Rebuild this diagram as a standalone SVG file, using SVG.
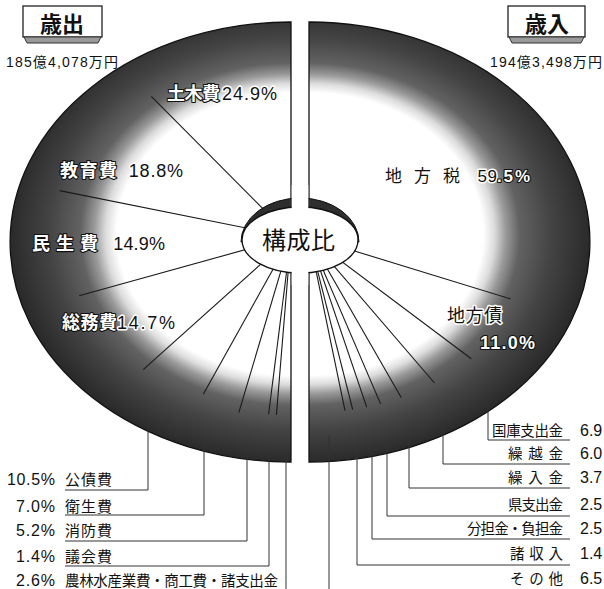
<svg xmlns="http://www.w3.org/2000/svg" width="604" height="589" viewBox="0 0 604 589">
<defs>
<radialGradient id="gL" gradientUnits="userSpaceOnUse" cx="0" cy="0" r="1" gradientTransform="translate(291 234) scale(281 228)">
<stop offset="0" stop-color="#fff"/><stop offset="0.62" stop-color="#fff"/><stop offset="0.66" stop-color="#dcdcdc"/><stop offset="0.70" stop-color="#9a9a9a"/><stop offset="0.75" stop-color="#626262"/><stop offset="0.86" stop-color="#444"/><stop offset="1" stop-color="#2a2a2a"/>
</radialGradient>
<radialGradient id="gR" gradientUnits="userSpaceOnUse" cx="0" cy="0" r="1" gradientTransform="translate(309 234) scale(281 228)">
<stop offset="0" stop-color="#fff"/><stop offset="0.62" stop-color="#fff"/><stop offset="0.66" stop-color="#dcdcdc"/><stop offset="0.70" stop-color="#9a9a9a"/><stop offset="0.75" stop-color="#626262"/><stop offset="0.86" stop-color="#444"/><stop offset="1" stop-color="#2a2a2a"/>
</radialGradient>
</defs>
<style>
.t{font-family:'Liberation Sans','Noto Sans CJK JP',sans-serif;fill:#111}
.j{font-family:'Noto Sans CJK JP',sans-serif;fill:#111}
.halo{paint-order:stroke;stroke:#fff;stroke-width:3;stroke-linejoin:round}
.out{fill:#fff;font-weight:700;paint-order:stroke;stroke:#111;stroke-width:2.2;stroke-linejoin:round}
.div{stroke:#1a1a1a;stroke-width:1.1;fill:none}
.lead{stroke:#333;stroke-width:1;fill:none}
.half{stroke:#111;stroke-width:1.3}
.box{fill:#fff;stroke:#222;stroke-width:1.3}
.base{fill:#9a9a9a;stroke:#333;stroke-width:1}
</style>
<rect width="604" height="589" fill="#fff"/>

<g id="half-expenditure">
<path class="half" d="M291,22 A281,220 0 0 0 291,462 Z" fill="url(#gL)"/>
</g>
<g id="half-revenue">
<path class="half" d="M309,22 A281,220 0 0 1 309,462 Z" fill="url(#gR)"/>
</g>

<g id="connectors">
<g class="div">
<line x1="291" y1="237" x2="151.3" y2="96.3"/>
<line x1="291" y1="237" x2="59.6" y2="190.6"/>
<line x1="291" y1="237" x2="79.1" y2="295.7"/>
<line x1="291" y1="237" x2="143.2" y2="369.6"/>
<line x1="291" y1="237" x2="203.3" y2="394.3"/>
<line x1="291" y1="237" x2="238.8" y2="412.7"/>
<line x1="291" y1="237" x2="268.6" y2="414.3"/>
<line x1="291" y1="237" x2="276.4" y2="414.9"/>
<line x1="309" y1="237" x2="510.4" y2="298.9"/>
<line x1="309" y1="237" x2="471.3" y2="358.8"/>
<line x1="309" y1="237" x2="434.5" y2="383.0"/>
<line x1="309" y1="237" x2="401.2" y2="397.5"/>
<line x1="309" y1="237" x2="380.6" y2="403.9"/>
<line x1="309" y1="237" x2="366.7" y2="407.1"/>
<line x1="309" y1="237" x2="352.7" y2="409.6"/>
<line x1="309" y1="237" x2="345.0" y2="410.7"/>
</g>
<g class="lead">
<polyline points="148,419 148,490 65,490"/>
<polyline points="204,440 204,515 65,515"/>
<polyline points="247,445 247,541 65,541"/>
<polyline points="269,447 269,566 65,566"/>
<polyline points="286,447 286,589"/>
<polyline points="488,404 488,440 570,440"/>
<polyline points="443,425 443,464 570,464"/>
<polyline points="409,436 409,488 570,488"/>
<polyline points="387,440 387,516 570,516"/>
<polyline points="372,447 372,539 570,539"/>
<polyline points="357,446 357,565 570,565"/>
<polyline points="329,435 329,589"/>
</g>
</g>

<g id="center">
<path d="M241,242 A59,44 0 0 1 359,242 Z" fill="#2e2e2e" stroke="#111" stroke-width="1"/>
<ellipse cx="300" cy="240" rx="58" ry="33" fill="#fff" stroke="#111" stroke-width="1.3"/>
<rect x="291.7" y="185" width="16.6" height="100" fill="#fff"/>
<text class="j" x="262" y="249" font-size="24" textLength="73">構成比</text>
</g>

<g id="title-expenditure">
<rect class="box" x="23" y="6" width="79" height="31"/>
<polygon class="base" points="24,37 101,37 98,43 27,43"/>
<text class="j" x="40" y="32" font-size="22" font-weight="700" textLength="44">歳出</text>
<text class="t" x="6" y="67" font-size="14" textLength="112">185億4,078万円</text>
</g>
<g id="title-revenue">
<rect class="box" x="508" y="6" width="77" height="31"/>
<polygon class="base" points="509,37 584,37 581,43 512,43"/>
<text class="j" x="525" y="32" font-size="22" font-weight="700" textLength="44">歳入</text>
<text class="t" x="490" y="67" font-size="14" textLength="112">194億3,498万円</text>
</g>

<g id="label-doboku"><text class="t" y="99.5" font-size="18"><tspan class="out" x="167" textLength="53">土木費</tspan><tspan class="halo" x="222" textLength="55">24.9%</tspan></text></g>
<g id="label-kyouiku"><text class="t" y="177" font-size="18"><tspan class="out" x="60" textLength="57">教育費</tspan><tspan class="halo" x="123" textLength="60"> 18.8%</tspan></text></g>
<g id="label-minsei"><text class="t" y="250" font-size="18"><tspan class="out" x="32" textLength="66">民 生 費</tspan><tspan class="halo" x="108" textLength="57"> 14.9%</tspan></text></g>
<g id="label-soumu"><text class="t" y="329" font-size="18"><tspan class="out" x="62" textLength="55">総務費</tspan><tspan class="halo" x="117" textLength="58">14.7%</tspan></text></g>

<g id="label-chihouzei"><text class="t" y="181.5" font-size="17"><tspan class="halo" x="385" textLength="75">地 方 税</tspan><tspan class="halo" x="472" textLength="25"> 59</tspan><tspan class="out" x="497" textLength="33">.5%</tspan></text></g>
<g id="label-chihousai">
<text class="t halo" x="447" y="322" font-size="18" textLength="55">地方債</text>
<text class="t out" x="480" y="349" font-size="18" textLength="55">11.0%</text>
</g>

<g id="label-kousai"><text class="t" x="7" y="484.5" font-size="16" textLength="48">10.5%</text><text class="t" x="65" y="484.5" font-size="15" textLength="47">公債費</text></g>
<g id="label-eisei"><text class="t" x="16" y="511.5" font-size="16" textLength="39">7.0%</text><text class="t" x="65" y="511.5" font-size="15" textLength="47">衛生費</text></g>
<g id="label-shoubou"><text class="t" x="16" y="535.5" font-size="16" textLength="39">5.2%</text><text class="t" x="65" y="535.5" font-size="15" textLength="47">消防費</text></g>
<g id="label-gikai"><text class="t" x="16" y="561.5" font-size="16" textLength="39">1.4%</text><text class="t" x="65" y="561.5" font-size="15" textLength="47">議会費</text></g>
<g id="label-nourin"><text class="t" x="16" y="585.5" font-size="16" textLength="39">2.6%</text><text class="t" x="65" y="585.5" font-size="14.5" textLength="213">農林水産業費・商工費・諸支出金</text></g>

<g id="label-kokko"><text class="t" x="492" y="435.5" font-size="14.5" textLength="71">国庫支出金</text><text class="t" x="580" y="435.5" font-size="16">6.9</text></g>
<g id="label-kurikoshi"><text class="t" x="508" y="458.5" font-size="14.5" textLength="55">繰 越 金</text><text class="t" x="580" y="458.5" font-size="16">6.0</text></g>
<g id="label-kuriire"><text class="t" x="508" y="482.5" font-size="14.5" textLength="55">繰 入 金</text><text class="t" x="580" y="482.5" font-size="16">3.7</text></g>
<g id="label-ken"><text class="t" x="508" y="509.5" font-size="14.5" textLength="55">県支出金</text><text class="t" x="580" y="509.5" font-size="16">2.5</text></g>
<g id="label-buntan"><text class="t" x="467" y="533.5" font-size="14.5" textLength="96">分担金・負担金</text><text class="t" x="580" y="533.5" font-size="16">2.5</text></g>
<g id="label-shoshuunyuu"><text class="t" x="510" y="558.5" font-size="14.5" textLength="53">諸 収 入</text><text class="t" x="580" y="558.5" font-size="16">1.4</text></g>
<g id="label-sonota"><text class="t" x="510" y="583.5" font-size="14.5" textLength="53">そ の 他</text><text class="t" x="580" y="583.5" font-size="16">6.5</text></g>
</svg>
